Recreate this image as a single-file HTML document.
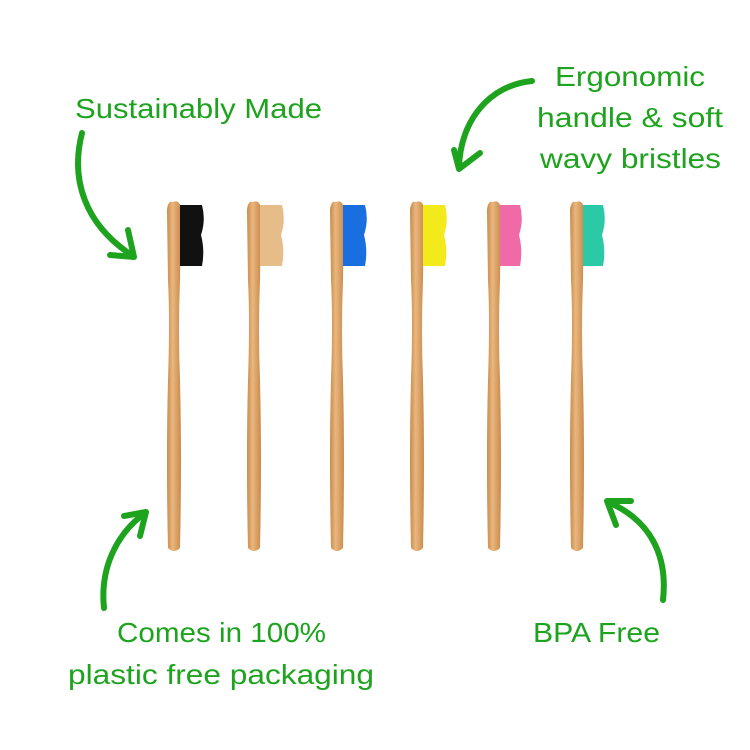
<!DOCTYPE html>
<html><head><style>
body{margin:0;background:#fff;}
svg{display:block}
text{font-family:"Liberation Sans",sans-serif;fill:#1ea31e;font-size:28px}
</style></head><body>
<svg width="750" height="750" viewBox="0 0 750 750">
<defs>
<linearGradient id="w" x1="0" x2="1" y1="0" y2="0">
<stop offset="0" stop-color="#c88a4a"/><stop offset="0.4" stop-color="#e9b77e"/><stop offset="1" stop-color="#c98a4c"/>
</linearGradient>
</defs>
<g fill="none" stroke="#1ea31e" stroke-width="6" stroke-linecap="round" stroke-linejoin="round">
<path d="M82 133 C70 180 85 225 133 256"/><path d="M128 230 L134 257 L110 255"/>
<path d="M532 81 C490 85 460 120 459 168"/><path d="M454 150 L459 169 L480 153"/>
<path d="M104 608 C100 570 115 535 145 513"/><path d="M124 516 L146 512 L140 536"/>
<path d="M663 600 C668 555 650 520 608 502"/><path d="M631 501 L607 501 L616 525"/>
</g>
<g>
<g transform="translate(174,0)">
<path d="M-1 202 Q6 199 7 210 L6 280 Q4 330 6 380 Q8 460 6 548 Q0 554 -6 548 Q-8 460 -6 380 Q-4 320 -6 280 L-7 210 Q-6 200 -1 202Z" fill="url(#w)"/>
<path d="M6 205 L28 205 Q32 220 27 235 Q31 250 28 266 L6 266Z" fill="#111"/></g>
<g transform="translate(254,0)">
<path d="M-1 202 Q6 199 7 210 L6 280 Q4 330 6 380 Q8 460 6 548 Q0 554 -6 548 Q-8 460 -6 380 Q-4 320 -6 280 L-7 210 Q-6 200 -1 202Z" fill="url(#w)"/>
<path d="M6 205 L28 205 Q32 220 27 235 Q31 250 28 266 L6 266Z" fill="#e6bc88"/></g>
<g transform="translate(337,0)">
<path d="M-1 202 Q6 199 7 210 L6 280 Q4 330 6 380 Q8 460 6 548 Q0 554 -6 548 Q-8 460 -6 380 Q-4 320 -6 280 L-7 210 Q-6 200 -1 202Z" fill="url(#w)"/>
<path d="M6 205 L28 205 Q32 220 27 235 Q31 250 28 266 L6 266Z" fill="#1a6fe0"/></g>
<g transform="translate(417,0)">
<path d="M-1 202 Q6 199 7 210 L6 280 Q4 330 6 380 Q8 460 6 548 Q0 554 -6 548 Q-8 460 -6 380 Q-4 320 -6 280 L-7 210 Q-6 200 -1 202Z" fill="url(#w)"/>
<path d="M6 205 L28 205 Q32 220 27 235 Q31 250 28 266 L6 266Z" fill="#f2ea1a"/></g>
<g transform="translate(494,0)">
<path d="M-1 202 Q6 199 7 210 L6 280 Q4 330 6 380 Q8 460 6 548 Q0 554 -6 548 Q-8 460 -6 380 Q-4 320 -6 280 L-7 210 Q-6 200 -1 202Z" fill="url(#w)"/>
<path d="M6 205 L26 205 Q30 220 25 235 Q29 250 26 266 L6 266Z" fill="#f06aa8"/></g>
<g transform="translate(577,0)">
<path d="M-1 202 Q6 199 7 210 L6 280 Q4 330 6 380 Q8 460 6 548 Q0 554 -6 548 Q-8 460 -6 380 Q-4 320 -6 280 L-7 210 Q-6 200 -1 202Z" fill="url(#w)"/>
<path d="M6 205 L26 205 Q30 220 25 235 Q29 250 26 266 L6 266Z" fill="#2cc9a6"/></g>
</g>
<text x="75" y="118" textLength="247" lengthAdjust="spacingAndGlyphs">Sustainably Made</text>
<text x="555" y="86" textLength="150" lengthAdjust="spacingAndGlyphs">Ergonomic</text>
<text x="537" y="127" textLength="186" lengthAdjust="spacingAndGlyphs">handle &amp; soft</text>
<text x="540" y="168" textLength="181" lengthAdjust="spacingAndGlyphs">wavy bristles</text>
<text x="117" y="642" textLength="209" lengthAdjust="spacingAndGlyphs">Comes in 100%</text>
<text x="68" y="684" textLength="306" lengthAdjust="spacingAndGlyphs">plastic free packaging</text>
<text x="533" y="642" textLength="127" lengthAdjust="spacingAndGlyphs">BPA Free</text>
</svg>
</body></html>
